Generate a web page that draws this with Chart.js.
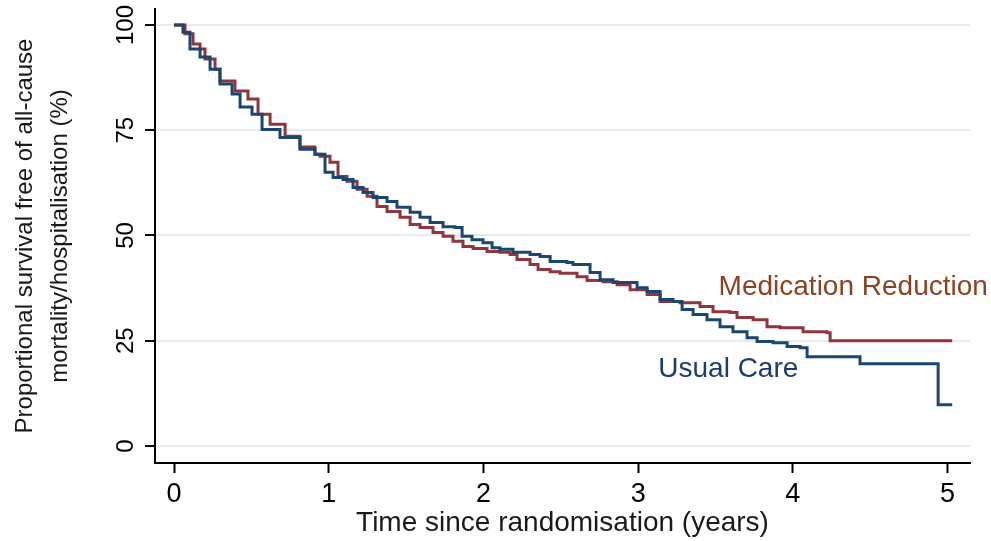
<!DOCTYPE html>
<html>
<head>
<meta charset="utf-8">
<script src="https://cdn.jsdelivr.net/npm/chart.js@4.4.1/dist/chart.umd.min.js"></script>
<style>
  html, body { margin: 0; padding: 0; background: #fff; }
</style>
</head>
<body>
<canvas id="km" width="991" height="541"></canvas>
<script>
// Kaplan-Meier estimates (years, % event-free)
const usualTime = [0, 0.058, 0.103, 0.168, 0.233, 0.297, 0.375, 0.427, 0.504, 0.569, 0.685, 0.814, 0.911, 0.976,
  1.028, 1.092, 1.157, 1.222, 1.286, 1.377, 1.441, 1.526, 1.590, 1.655, 1.739, 1.816, 1.862, 1.926, 1.997,
  2.056, 2.107, 2.191, 2.301, 2.366, 2.431, 2.540, 2.579, 2.657, 2.689, 2.754, 2.838, 2.915, 2.993,
  3.058, 3.142, 3.226, 3.284, 3.355, 3.445, 3.529, 3.613, 3.704, 3.769, 3.872, 3.963,
  4.047, 4.092, 4.434, 4.939, 5.03];
const usualSurv = [100, 98.3, 94.3, 92.4, 89.5, 86.0, 83.6, 80.5, 78.8, 75.2, 73.3, 70.5, 69.3, 65.0,
  63.8, 63.3, 61.4, 60.2, 59.0, 58.1, 56.7, 55.5, 54.3, 53.1, 52.1, 51.9, 49.8, 49.0, 48.3,
  47.1, 46.7, 46.0, 45.5, 45.0, 43.8, 43.6, 43.1, 43.1, 41.2, 39.5, 38.8, 38.8, 37.6,
  36.7, 34.8, 34.3, 32.4, 31.2, 30.0, 28.3, 27.1, 25.7, 24.8, 24.5, 23.6,
  23.3, 21.2, 19.5, 9.8, 9.8];

const reductionTime = [0, 0.071, 0.123, 0.168, 0.200, 0.265, 0.297, 0.394, 0.478, 0.543, 0.621, 0.718, 0.814, 0.911, 0.944,
  1.008, 1.060, 1.118, 1.183, 1.248, 1.312, 1.377, 1.461, 1.526, 1.590, 1.674, 1.739, 1.803, 1.868, 1.933,
  2.023, 2.107, 2.172, 2.217, 2.301, 2.353, 2.431, 2.495, 2.605, 2.670, 2.773, 2.864, 2.948,
  3.058, 3.142, 3.271, 3.400, 3.484, 3.594, 3.639, 3.743, 3.833, 3.917,
  4.066, 4.221, 4.241, 5.03];
const reductionSurv = [100, 97.9, 95.5, 94.3, 91.9, 89.5, 86.7, 84.3, 82.4, 78.8, 76.4, 73.6, 71.0, 69.3, 68.8,
  67.4, 64.0, 62.9, 61.0, 59.3, 56.9, 55.7, 54.3, 52.6, 51.9, 50.7, 49.8, 48.6, 47.4, 46.9,
  46.2, 46.0, 45.5, 44.3, 43.1, 41.9, 41.4, 41.0, 40.2, 39.3, 39.0, 38.3, 37.1,
  36.0, 34.3, 34.0, 33.1, 31.9, 31.7, 30.5, 30.0, 28.3, 28.1,
  27.1, 26.9, 25.0, 25.0];

const xTicks = [0, 1, 2, 3, 4, 5];
const yTicks = [0, 25, 50, 75, 100];
const yTitle = ['Proportional survival free of all-cause', 'mortality/hospitalisation (%)'];

// curve labels: [text, x, y]
const curveLabels = [
  ['Medication Reduction', 3.52, 37.6],
  ['Usual Care', 3.13, 18.1],
];

const C = {
  usual: '#1a476f',
  reduction: '#90353b',
  usualText: '#1a3c73',
  reductionText: '#8c4220',
  grid: '#e4ecef',
  axis: '#000',
};
const FONT = '"Liberation Sans", Arial, sans-serif';

const toPoints = (t, s) => t.map((v, i) => ({ x: v, y: s[i] }));

// rotated y tick labels, y title and curve names
const sideText = {
  id: 'sideText',
  afterDraw(chart) {
    const { ctx, chartArea, scales: { x, y } } = chart;
    ctx.save();
    ctx.fillStyle = C.axis;
    ctx.textAlign = 'center';
    ctx.textBaseline = 'middle';
    ctx.font = `24px ${FONT}`;
    yTicks.forEach(v => {
      ctx.save();
      ctx.translate(126, y.getPixelForValue(v));
      ctx.rotate(-Math.PI / 2);
      ctx.fillText(String(v), 0, 0);
      ctx.restore();
    });

    const mid = (chartArea.top + chartArea.bottom) / 2;
    ctx.fillStyle = '#1a1a1a';
    ctx.font = `24px ${FONT}`;
    [25, 60].forEach((cx, i) => {
      ctx.save();
      ctx.translate(cx, mid);
      ctx.rotate(-Math.PI / 2);
      ctx.fillText(yTitle[i], 0, 0);
      ctx.restore();
    });

    ctx.textAlign = 'left';
    ctx.font = `28px ${FONT}`;
    curveLabels.forEach(([txt, lx, ly], i) => {
      ctx.fillStyle = i === 0 ? C.reductionText : C.usualText;
      ctx.fillText(txt, x.getPixelForValue(lx), y.getPixelForValue(ly));
    });
    ctx.restore();
  }
};

new Chart(document.getElementById('km'), {
  type: 'line',
  data: {
    datasets: [
      {
        label: 'Usual Care',
        data: toPoints(usualTime, usualSurv),
        borderColor: C.usual,
        borderWidth: 3,
        stepped: true,
        pointRadius: 0,
        fill: false,
      },
      {
        label: 'Medication Reduction',
        data: toPoints(reductionTime, reductionSurv),
        borderColor: C.reduction,
        borderWidth: 3,
        stepped: true,
        pointRadius: 0,
        fill: false,
      }
    ]
  },
  options: {
    responsive: false,
    animation: false,
    layout: { padding: { left: 0, right: 21, top: 9, bottom: 0 } },
    plugins: { legend: { display: false }, tooltip: { enabled: false } },
    scales: {
      x: {
        type: 'linear',
        min: -0.123, max: 5.145,
        afterBuildTicks: s => { s.ticks = xTicks.map(v => ({ value: v })); },
        afterFit: s => { s.height = 78; },
        grid: { drawOnChartArea: false, tickColor: C.axis, tickLength: 10, tickWidth: 2 },
        border: { color: C.axis, width: 2 },
        ticks: { color: C.axis, font: { family: FONT, size: 27 }, padding: 5, maxRotation: 0 },
        title: {
          display: true, text: 'Time since randomisation (years)', color: '#1a1a1a',
          font: { family: FONT, size: 28 }, padding: { top: 0, bottom: 1 }
        }
      },
      y: {
        min: -4.05, max: 103.8,
        afterBuildTicks: s => { s.ticks = yTicks.map(v => ({ value: v })); },
        afterFit: s => { s.width = 155; },
        grid: { color: C.grid, lineWidth: 2, tickColor: C.axis, tickLength: 10, tickWidth: 2 },
        border: { color: C.axis, width: 2 },
        ticks: { display: false }
      }
    }
  },
  plugins: [sideText]
});
</script>
</body>
</html>
